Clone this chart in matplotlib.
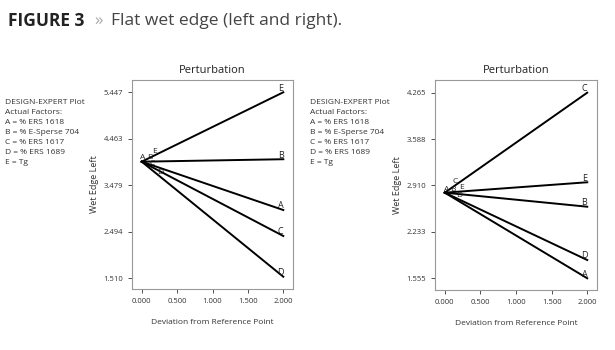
import matplotlib
matplotlib.use("Agg")
import matplotlib.pyplot as plt

plt.rcParams['font.family'] = ['Open Sans', 'DejaVu Sans']

factors = ["A", "B", "C", "D", "E"]
factor_text = ["DESIGN-EXPERT Plot", "Actual Factors:", "A = % ERS 1618",
               "B = % E-Sperse 704", "C = % ERS 1617", "D = % ERS 1689", "E = Tg"]

dev = [0.0, 2.0]
x_ticks = [0.0, 0.5, 1.0, 1.5, 2.0]

# left panel: start value and end value per factor
left_start = 3.978
left_end = {"A": 2.955, "B": 4.03, "C": 2.405, "D": 1.543, "E": 5.447}
left_yticks = [1.510, 2.494, 3.479, 4.463, 5.447]
left_lab_x = {"A": 0.02, "B": 0.115, "C": 0.15, "D": 0.26, "E": 0.18}

# right panel
right_start = 2.805
right_end = {"A": 1.555, "B": 2.60, "C": 4.265, "D": 1.822, "E": 2.957}
right_yticks = [1.555, 2.233, 2.910, 3.588, 4.265]
right_lab_x = {"A": 0.02, "B": 0.11, "C": 0.14, "D": 0.20, "E": 0.24}


def panel(ax, start, ends, yticks, lab_x, ylim):
    for f in factors:
        ax.plot(dev, [start, ends[f]], color="black", lw=1.4)
        ax.annotate(f, (dev[1], ends[f]), xytext=(-2, 3), textcoords="offset points",
                    ha="center", va="center", fontsize=6.5, color="#222222")
        lx = lab_x[f]
        ly = start + (ends[f] - start) * lx / dev[1]
        ax.annotate(f, (lx, ly), xytext=(0, 3), textcoords="offset points",
                    ha="center", va="center", fontsize=6, color="#222222")
    ax.set_xlim(-0.137, 2.137)
    ax.set_ylim(*ylim)
    ax.set_xticks(x_ticks)
    ax.set_xticklabels([f"{v:.3f}" for v in x_ticks])
    ax.set_yticks(yticks)
    ax.set_yticklabels([f"{v:.3f}" for v in yticks])
    ax.tick_params(labelsize=5.5, colors="#333333", length=3, width=0.6)
    for s in ax.spines.values():
        s.set_color("#999999")
        s.set_linewidth(0.8)
    ax.set_title("Perturbation", fontsize=8, color="#222222", pad=5)
    ax.set_xlabel("Deviation from Reference Point", fontsize=6, color="#333333", labelpad=10)
    ax.set_ylabel("Wet Edge Left", fontsize=6.5, color="#333333", labelpad=3)


fig = plt.figure(figsize=(6.15, 3.5), dpi=100)

ax1 = fig.add_axes([132 / 615, 61 / 350, 161 / 615, 209 / 350])
panel(ax1, left_start, left_end, left_yticks, left_lab_x, (1.283, 5.707))

ax2 = fig.add_axes([435 / 615, 60 / 350, 162 / 615, 210 / 350])
panel(ax2, right_start, right_end, right_yticks, right_lab_x, (1.384, 4.45))

for x0 in (5, 310):
    for i, t in enumerate(factor_text):
        fig.text(x0 / 615, 1 - (103 + i * 10) / 350, t, fontsize=6, color="#333333",
                 va="center", ha="left")

fig.text(8 / 615, 1 - 21 / 350, "FIGURE 3", fontsize=12.5, fontweight="bold",
         color="#222222", va="center")
fig.text(94 / 615, 1 - 21 / 350, "\u00bb", fontsize=12.5, color="#aaaaaa", va="center")
fig.text(111 / 615, 1 - 21 / 350, "Flat wet edge (left and right).", fontsize=12.5,
         color="#444444", va="center")

fig.savefig("out.png", dpi=100)
